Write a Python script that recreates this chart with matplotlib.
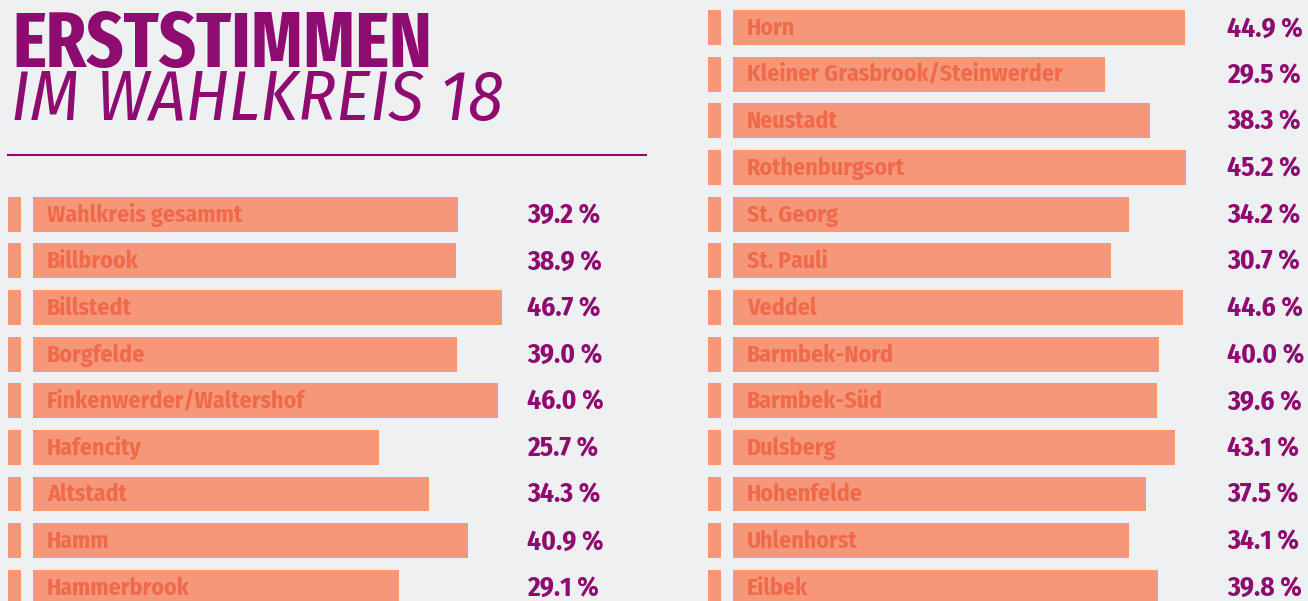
import numpy as np
import matplotlib.pyplot as plt
from matplotlib import font_manager as fm
from matplotlib.patches import Rectangle
from matplotlib.lines import Line2D
from matplotlib.transforms import blended_transform_factory

# data
left_names = ["Wahlkreis gesammt", "Billbrook", "Billstedt", "Borgfelde",
              "Finkenwerder/Waltershof", "Hafencity", "Altstadt", "Hamm",
              "Hammerbrook"]
left_values = [39.2, 38.9, 46.7, 39.0, 46.0, 25.7, 34.3, 40.9, 29.1]

right_names = ["Horn", "Kleiner Grasbrook/Steinwerder", "Neustadt",
               "Rothenburgsort", "St. Georg", "St. Pauli", "Veddel",
               "Barmbek-Nord", "Barmbek-Süd", "Dulsberg", "Hohenfelde",
               "Uhlenhorst", "Eilbek"]
right_values = [44.9, 29.5, 38.3, 45.2, 34.2, 30.7, 44.6, 40.0, 39.6, 43.1,
                37.5, 34.1, 39.8]

BG = '#eff0f2'
BAR = '#f6977a'
LABEL = '#ef6a4b'
PURPLE = '#8e0b6f'

installed = {f.name for f in fm.fontManager.ttflist}


def pick(*names):
    for n in names:
        if n in installed:
            return [n, 'DejaVu Sans']
    return ['DejaVu Sans']


TITLE_FONT = pick('Fira Sans Extra Condensed', 'Fira Sans Condensed',
                  'Roboto Condensed', 'Barlow Condensed', 'PT Sans Narrow')
SUB_FONT = pick('Fira Sans Condensed', 'Fira Sans', 'Lato')
LABEL_FONT = pick('Fira Sans Condensed', 'Roboto Condensed', 'PT Sans Narrow',
                  'Fira Sans')
PCT_FONT = pick('Fira Sans Condensed', 'Fira Sans', 'Liberation Sans')

W, H = 1308, 601
fig = plt.figure(figsize=(W / 100, H / 100), dpi=100, facecolor=BG)
renderer = fig.canvas.get_renderer()


def fit(t, target_px):
    # scale the font size so the text is as wide as in the reference
    w = t.get_window_extent(renderer).width
    t.set_fontsize(t.get_fontsize() * target_px / w)
    return t.get_fontsize()


# size probes
probe = fig.text(0, 0, "Wahlkreis gesammt", fontsize=16, fontweight='bold',
                 family=LABEL_FONT)
label_size = fit(probe, 195)
probe.remove()
probe = fig.text(0, 0, "39.2 %", fontsize=18, fontweight='bold',
                 family=PCT_FONT)
pct_size = fit(probe, 73)
probe.remove()

# row k sits at pixel 27.5 + 46.65*k
PITCH = 46.65
Y0 = 27.5
ylim = ((H - Y0) / PITCH, -Y0 / PITCH)


def column(x0, x1, names, values, first_row, px_a, px_b, base):
    ax = fig.add_axes([x0 / W, 0, (x1 - x0) / W, 1])
    ax.set_xlim((x0 - px_a) / px_b, (x1 - px_a) / px_b)
    ax.set_ylim(*ylim)
    ax.axis('off')
    wpx = x1 - x0
    rows = np.arange(len(values)) + first_row
    vals = np.array(values)
    ax.barh(rows, vals - base, left=base, height=0.75, color=BAR)
    tr = blended_transform_factory(ax.transAxes, ax.transData)
    for r, name, v in zip(rows, names, vals):
        ax.add_patch(Rectangle((8 / wpx, r - 0.375), 13 / wpx, 0.75,
                               transform=tr, color=BAR, lw=0))
        ax.text(47 / wpx, r + 0.16, name, transform=tr, va='baseline',
                ha='left', color=LABEL, fontsize=label_size,
                fontweight='bold', family=LABEL_FONT)
        ax.text(527 / wpx, r + 0.19, f"{v:.1f} %", transform=tr,
                va='baseline', ha='left', color=PURPLE, fontsize=pct_size,
                fontweight='bold', family=PCT_FONT)
    return ax


column(0, 660, left_names, left_values, 4, 227.3, 5.89, -33.0)
column(700, 1308, right_names, right_values, 0, 952.1, 5.18, -42.3)

# title
t1 = fig.text(12 / W, 1 - 67 / H, "ERSTSTIMMEN", color=PURPLE, fontsize=60,
              fontweight='bold', va='baseline', family=TITLE_FONT)
fit(t1, 420)
t2 = fig.text(11 / W, 1 - 120 / H, "IM WAHLKREIS 18", color=PURPLE,
              fontsize=44, fontweight='normal', style='italic',
              va='baseline', family=SUB_FONT)
fit(t2, 492)
fig.add_artist(Line2D([8 / W, 646 / W], [1 - 155 / H, 1 - 155 / H],
                      color=PURPLE, lw=1.5))

fig.savefig('out.png', dpi=100, facecolor=BG)
